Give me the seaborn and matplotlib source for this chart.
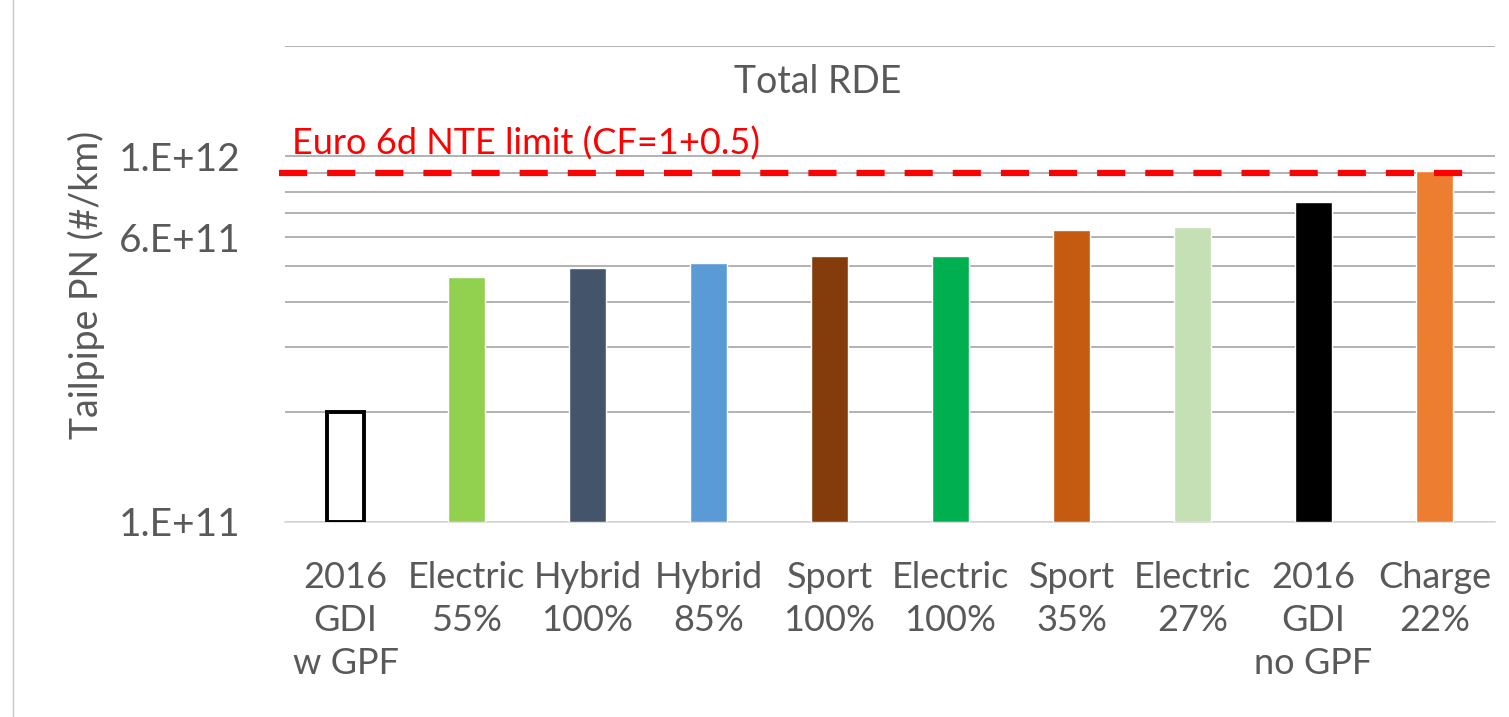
import numpy as np
import matplotlib
matplotlib.use("Agg")
import matplotlib.pyplot as plt
import seaborn as sns
from matplotlib.lines import Line2D

# ---------------- datos ----------------
categorias = ["2016\nGDI\nw GPF", "Electric\n55%", "Hybrid\n100%", "Hybrid\n85%",
              "Sport\n100%", "Electric\n100%", "Sport\n35%", "Electric\n27%",
              "2016\nGDI\nno GPF", "Charge\n22%"]
pn_total = [2.0e11, 4.66e11, 4.96e11, 5.12e11, 5.35e11, 5.35e11,
            6.27e11, 6.39e11, 7.48e11, 9.1e11]
colores = ["#FFFFFF", "#92D050", "#44546A", "#5B9BD5", "#843C0C",
           "#00B050", "#C55A11", "#C5E0B4", "#000000", "#ED7D31"]
limite_nte = 9.0e11
texto_limite = "Euro 6d NTE limit (CF=1+0.5)"
y_ticks = [1e11, 2e11, 3e11, 4e11, 5e11, 6e11, 7e11, 8e11, 9e11, 1e12, 2e12]
y_ticklabels = ["1.E+11", "", "", "", "", "6.E+11", "", "", "", "1.E+12", ""]

# ---------------- estilo ----------------
sns.set_style("white")
plt.rcParams['font.family'] = ['Lato', 'DejaVu Sans']
gris_texto = "#595959"

fig = plt.figure(figsize=(15.09, 7.17), dpi=100)
ax = fig.add_axes([0.1889, 0.2720, 0.8018, 0.6638])
ax.set_yscale("log")

sns.barplot(x=categorias, y=pn_total, hue=categorias, palette=colores,
            width=0.31, saturation=1, legend=False, ax=ax, zorder=3)

# barras desde la base del eje (1e11)
for p in ax.patches:
    top = p.get_y() + p.get_height()
    p.set_y(y_ticks[0])
    p.set_height(top - y_ticks[0])
ax.patches[0].set_edgecolor("black")
ax.patches[0].set_linewidth(2.8)

ax.set_ylim(1e11, 2e12)
ax.set_xlim(-0.5, len(categorias) - 0.5)
ax.yaxis.set_major_locator(matplotlib.ticker.FixedLocator(y_ticks))
ax.yaxis.set_minor_locator(matplotlib.ticker.NullLocator())
ax.set_yticklabels(y_ticklabels)
ax.grid(axis="y", color="#a6a6a6", linewidth=1.2, zorder=0)
ax.set_axisbelow(True)

for s in ["left", "right", "top"]:
    ax.spines[s].set_visible(False)
ax.spines["bottom"].set_color("#d9d9d9")
ax.spines["bottom"].set_linewidth(1.2)

ax.tick_params(axis="y", length=0, pad=32, labelsize=28, labelcolor=gris_texto)
ax.tick_params(axis="x", length=0, pad=28, labelsize=26, labelcolor=gris_texto)
for t in ax.get_xticklabels():
    t.set_linespacing(1.38)

ax.set_ylabel("Tailpipe PN (#/km)", fontsize=27, color=gris_texto)
ax.yaxis.set_label_coords(-0.149, 0.498)
ax.set_xlabel("")

# límite Euro 6d
ax.axhline(limite_nte, xmin=-0.005, xmax=0.985, color="#FF0000", linewidth=4.5,
           linestyle=(0, (4.5, 3.2)), zorder=4, clip_on=False)
ax.text(0.006, 1.08e12, texto_limite, color="#FF0000", fontsize=26,
        va="center", ha="left", transform=ax.get_yaxis_transform())

ax.text(0.44, 0.924, "Total RDE", color=gris_texto, fontsize=27,
        ha="center", va="center", transform=ax.transAxes)

# borde izquierdo del marco
fig.add_artist(Line2D([13 / 1509, 13 / 1509], [0, 1], color="#c8c8c8", linewidth=1))

fig.savefig("out.png", dpi=100)
